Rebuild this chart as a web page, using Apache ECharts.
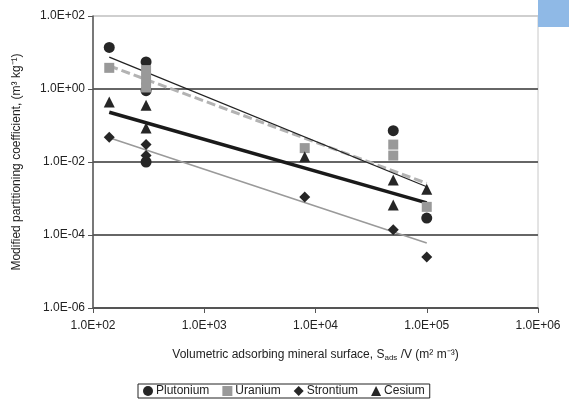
<!DOCTYPE html>
<html>
<head>
<meta charset="utf-8" />
<title>Partitioning coefficient</title>
<script src="https://cdn.jsdelivr.net/npm/echarts@6/dist/echarts.min.js"></script>
<style>
	html, body { margin: 0; padding: 0; background: #fff; }
	#chart { width: 569px; height: 400px; }
</style>
</head>
<body>
<div id="chart"></div>
<script type="text/javascript">
// axis ticks
var xTickValues = [1e2, 1e3, 1e4, 1e5, 1e6];
var xTickLabels = ['1.0E+02', '1.0E+03', '1.0E+04', '1.0E+05', '1.0E+06'];
var yTickValues = [1e-6, 1e-4, 1e-2, 1, 1e2];
var yTickLabels = ['1.0E-06', '1.0E-04', '1.0E-02', '1.0E+00', '1.0E+02'];

// measured points (x = surface, y = coefficient)
var puX = [140, 300, 300, 300, 5e4, 1e5];
var puY = [13.8, 5.5, 0.9, 0.01, 0.072, 2.9e-4];
var uX = [140, 300, 300, 300, 8e3, 5e4, 5e4, 1e5];
var uY = [3.8, 3.3, 1.8, 1.1, 0.024, 0.03, 0.015, 5.9e-4];
var srX = [140, 300, 300, 8e3, 5e4, 1e5];
var srY = [0.048, 0.03, 0.015, 1.1e-3, 1.4e-4, 2.5e-5];
var csX = [140, 300, 300, 8e3, 5e4, 5e4, 1e5];
var csY = [0.44, 0.36, 0.085, 0.014, 3.2e-3, 6.6e-4, 1.8e-3];

// trend lines, read at both ends
var trendX = [140, 1e5];
var puTrend = [7.5, 2.1e-3];
var uTrend = [4.3, 2.6e-3];
var srTrend = [0.046, 6e-5];
var csTrend = [0.23, 7.6e-4];

function pairs(xs, ys) {
	return xs.map(function(x, i) { return [x, ys[i]]; });
}
function tickText(values, labels, v) {
	for (var i = 0; i < values.length; i++) {
		if (Math.abs(Math.log10(values[i]) - Math.log10(v)) < 1e-6) return labels[i];
	}
	return '';
}

var font = 'Liberation Sans, Arial, sans-serif';
var myChart = echarts.init(document.getElementById('chart'));
var option = {
	animation: false,
	backgroundColor: '#fff',
	textStyle: { fontFamily: font },
	grid: {
		left: 93, right: 31, top: 16, bottom: 92,
		show: true, borderColor: '#c8c8c8', borderWidth: 1
	},
	xAxis: {
		type: 'log', logBase: 10, min: 1e2, max: 1e6,
		splitNumber: 4,
		name: 'Volumetric adsorbing mineral surface, S{sub|ads} /V (m² m⁻³)',
		nameLocation: 'middle', nameGap: 40,
		nameTextStyle: {
			fontSize: 12, color: '#222', fontFamily: font,
			rich: { sub: { fontSize: 8, padding: [6, 0, 0, 0], color: '#222', fontFamily: font } }
		},
		axisLine: { lineStyle: { color: '#555', width: 1.5 } },
		axisTick: { show: true, length: 5, lineStyle: { color: '#555' } },
		axisLabel: {
			fontSize: 12, color: '#222', margin: 12,
			formatter: function(v) { return tickText(xTickValues, xTickLabels, v); }
		},
		splitLine: { show: false },
		minorTick: { show: false }
	},
	yAxis: {
		type: 'log', logBase: 10, min: 1e-6, max: 1e2,
		interval: 2,
		name: 'Modified partitioning coefficient, (m³ kg⁻¹)',
		nameLocation: 'middle', nameGap: 70, nameRotate: 90,
		nameTextStyle: { fontSize: 12, color: '#222', fontFamily: font },
		axisLine: { lineStyle: { color: '#555', width: 1.5 } },
		axisTick: { show: true, length: 5, lineStyle: { color: '#555' } },
		axisLabel: {
			fontSize: 12, color: '#222', margin: 8,
			formatter: function(v) { return tickText(yTickValues, yTickLabels, v); }
		},
		splitLine: {
			show: true,
			lineStyle: { color: ['#555', '#666', '#666', '#666', '#cfcfcf'], width: 2 }
		}
	},
	legend: {
		data: [
			{ name: 'Plutonium', icon: 'circle' },
			{ name: 'Uranium', icon: 'rect' },
			{ name: 'Strontium', icon: 'diamond' },
			{ name: 'Cesium', icon: 'triangle' }
		],
		left: 138, top: 384,
		selectedMode: false,
		backgroundColor: '#fff',
		borderColor: '#222', borderWidth: 1, borderRadius: 0,
		padding: [1, 5],
		itemGap: 13, itemWidth: 10, itemHeight: 10,
		textStyle: { fontSize: 12, color: '#222', padding: [0, 0, 0, -2], fontFamily: font }
	},
	graphic: [{
		type: 'rect', left: 538, top: 0,
		shape: { width: 31, height: 27 },
		style: { fill: '#8fb9e6' }
	}],
	series: [
		{
			name: 'Uranium trend', type: 'line', data: pairs(trendX, uTrend),
			symbol: 'none', z: 2,
			lineStyle: { color: '#b3b3b3', width: 3, type: [9, 4] }
		},
		{
			name: 'Plutonium trend', type: 'line', data: pairs(trendX, puTrend),
			symbol: 'none', z: 3,
			lineStyle: { color: '#222', width: 1.3 }
		},
		{
			name: 'Strontium trend', type: 'line', data: pairs(trendX, srTrend),
			symbol: 'none', z: 2,
			lineStyle: { color: '#9a9a9a', width: 1.6 }
		},
		{
			name: 'Cesium trend', type: 'line', data: pairs(trendX, csTrend),
			symbol: 'none', z: 3,
			lineStyle: { color: '#1a1a1a', width: 3.5 }
		},
		{
			name: 'Plutonium', type: 'scatter', data: pairs(puX, puY),
			symbol: 'circle', symbolSize: 11, z: 4,
			itemStyle: { color: '#262626', opacity: 1 }
		},
		{
			name: 'Uranium', type: 'scatter', data: pairs(uX, uY),
			symbol: 'rect', symbolSize: 10, z: 4,
			itemStyle: { color: '#999999', opacity: 1 }
		},
		{
			name: 'Strontium', type: 'scatter', data: pairs(srX, srY),
			symbol: 'diamond', symbolSize: 11, z: 4,
			itemStyle: { color: '#262626', opacity: 1 }
		},
		{
			name: 'Cesium', type: 'scatter', data: pairs(csX, csY),
			symbol: 'triangle', symbolSize: 11, z: 4,
			itemStyle: { color: '#262626', opacity: 1 }
		}
	]
};
myChart.setOption(option);
</script>
</body>
</html>
